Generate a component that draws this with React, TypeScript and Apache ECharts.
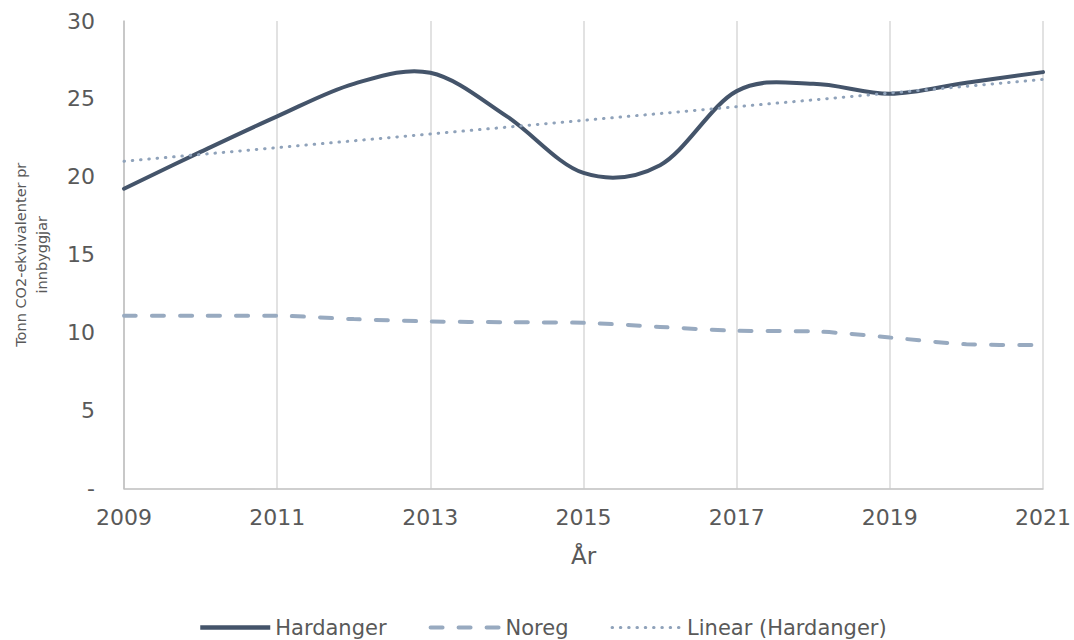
import React, { useEffect, useRef } from "react";
import * as echarts from "echarts";

const years = ["2009", "2010", "2011", "2012", "2013", "2014", "2015", "2016", "2017", "2018", "2019", "2020", "2021"];
const hardanger = [19.24, 21.6, 23.88, 25.97, 26.68, 23.88, 20.25, 20.75, 25.5, 25.97, 25.33, 26.04, 26.72];
const noreg = [11.08, 11.08, 11.08, 10.87, 10.72, 10.67, 10.63, 10.37, 10.12, 10.08, 9.69, 9.26, 9.2];
// Linear trend of Hardanger, read at first and last year
const trendEnds = [21.0, 26.25];

const seriesNames = ["Hardanger", "Noreg", "Linear (Hardanger)"];
const yAxisTitle = "Tonn CO2-ekvivalenter pr\ninnbyggjar";
const xAxisTitle = "År";

const FONT = "DejaVu Sans";
const TEXT = "#595959";
const DARK = "#44546A";
const LIGHT = "#98AAC0";
const DOT = "#8FA2BA";

// Excel-like smoothed curve (Catmull-Rom through the data points, via axis coordinates)
function smoothPath(pts: number[][]): string {
  const n = pts.length;
  let d = `M${pts[0][0]},${pts[0][1]}`;
  for (let i = 0; i < n - 1; i++) {
    const p0 = pts[Math.max(0, i - 1)];
    const p1 = pts[i];
    const p2 = pts[i + 1];
    const p3 = pts[Math.min(n - 1, i + 2)];
    const c1x = p1[0] + (p2[0] - p0[0]) / 6;
    const c1y = p1[1] + (p2[1] - p0[1]) / 6;
    const c2x = p2[0] - (p3[0] - p1[0]) / 6;
    const c2y = p2[1] - (p3[1] - p1[1]) / 6;
    d += ` C${c1x},${c1y} ${c2x},${c2y} ${p2[0]},${p2[1]}`;
  }
  return d;
}

export default function App() {
  const ref = useRef<HTMLDivElement>(null);

  useEffect(() => {
    if (!ref.current) return;
    const chart = echarts.init(ref.current, undefined, { renderer: "svg" });
    const last = years.length - 1;
    const trendData = years.map((_, i) => (i === 0 ? trendEnds[0] : i === last ? trendEnds[1] : null));

    chart.setOption({
      animation: false,
      backgroundColor: "#ffffff",
      textStyle: { fontFamily: FONT },
      grid: { left: 124, right: 30, top: 21, bottom: 151.5, containLabel: false },
      legend: {
        data: [
          { name: seriesNames[0], lineStyle: { width: 4.5, opacity: 1 } },
          { name: seriesNames[1], lineStyle: { width: 4, opacity: 1 } },
          { name: seriesNames[2], lineStyle: { width: 3, opacity: 1 } },
        ],
        top: 612,
        left: 193,
        itemWidth: 70,
        itemHeight: 14,
        itemGap: 42,
        selectedMode: false,
        itemStyle: { opacity: 0 },
        lineStyle: { opacity: 1 },
        textStyle: { fontFamily: FONT, fontSize: 21, color: TEXT },
      },
      xAxis: {
        type: "category",
        data: years,
        boundaryGap: false,
        name: xAxisTitle,
        nameLocation: "middle",
        nameGap: 56,
        nameTextStyle: { fontFamily: FONT, fontSize: 23, color: TEXT },
        axisLine: { show: true, lineStyle: { color: "#bfbfbf", width: 1.5 } },
        axisTick: { show: false },
        axisLabel: { interval: 1, margin: 18, fontFamily: FONT, fontSize: 22, color: TEXT },
        splitLine: { show: true, interval: 1, lineStyle: { color: "#d9d9d9", width: 1.5 } },
      },
      yAxis: {
        type: "value",
        min: 0,
        max: 30,
        interval: 5,
        name: yAxisTitle,
        nameLocation: "middle",
        nameGap: 72,
        nameTextStyle: { fontFamily: FONT, fontSize: 14.5, color: TEXT, lineHeight: 21, align: "center" },
        axisLine: { show: true, lineStyle: { color: "#bfbfbf", width: 1.5 } },
        axisTick: { show: false },
        splitLine: { show: false },
        axisLabel: {
          margin: 29,
          fontFamily: FONT,
          fontSize: 22,
          color: TEXT,
          formatter: (v: number) => (v === 0 ? "-" : String(v)),
        },
      },
      series: [
        {
          // legend entry for Hardanger; the visible curve is drawn by the custom series below
          name: seriesNames[0],
          type: "line",
          data: hardanger,
          symbol: "none",
          silent: true,
          lineStyle: { color: DARK, width: 4, opacity: 0 },
          itemStyle: { color: DARK },
        },
        {
          name: seriesNames[1],
          type: "line",
          data: noreg,
          smooth: 0.3,
          symbol: "none",
          lineStyle: { color: LIGHT, width: 4, type: [12, 16], cap: "round" },
          itemStyle: { color: LIGHT },
        },
        {
          name: "Hardanger (kurve)",
          type: "custom",
          data: [[0, hardanger[0]]],
          encode: { x: 0, y: 1 },
          silent: true,
          z: 2,
          renderItem: (_params: any, api: any) => {
            const pts = hardanger.map((v, i) => api.coord([i, v]));
            return {
              type: "path",
              shape: { pathData: smoothPath(pts) },
              style: { fill: "none", stroke: DARK, lineWidth: 4, lineCap: "round", lineJoin: "round" },
            };
          },
        },
        {
          name: seriesNames[2],
          type: "line",
          data: trendData,
          connectNulls: true,
          symbol: "none",
          z: 3,
          lineStyle: { color: DOT, width: 3, type: [0.5, 7.8], cap: "round" },
          itemStyle: { color: DOT },
        },
      ],
    });

    return () => chart.dispose();
  }, []);

  return (
    <div
      ref={ref}
      style={{ position: "fixed", left: 0, top: 0, width: 1074, height: 640, background: "#fff" }}
    />
  );
}
